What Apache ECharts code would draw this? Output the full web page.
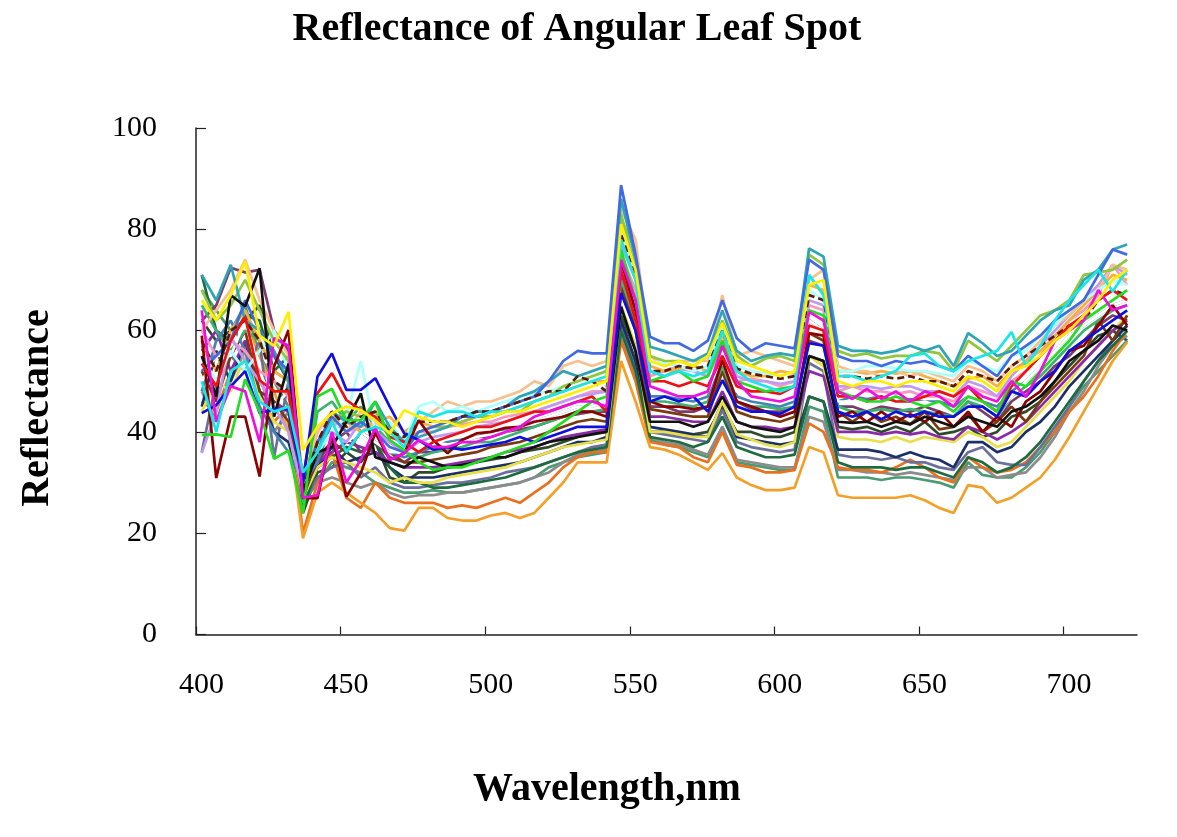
<!DOCTYPE html>
<html>
<head>
<meta charset="utf-8">
<script src="https://cdn.jsdelivr.net/npm/echarts@6/dist/echarts.min.js"></script>
<style>
  html, body { margin: 0; padding: 0; background: #fff; }
  #chart { width: 1177px; height: 837px; }
</style>
</head>
<body>
<div id="chart"></div>
<script>
"use strict";

// wavelength samples, nm
var wavelengths = [402,407,412,417,422,427,432,437,442,447,452,457,462,467,472,477,482,487,492,497,502,507,512,517,522,527,532,537,542,547,552,557,562,567,572,577,582,587,592,597,602,607,612,617,622,627,632,637,642,647,652,657,662,667,672,677,682,687,692,697,702,707,712,717,722];
var xTicks = [400, 450, 500, 550, 600, 650, 700];

// reflectance curves (%)
var darkOlive = [62,58,60,62,65,55,50, 24, 32,33,36,34,38,31,30, 32,32,33,33.5,34,34.5,35,36,36.5,37,38,39,40,40, 63,56,40, 40,39.5,39.5,40, 45, 40,40,39,39,40, 55,54, 41,40.5,41,40,41,40,42,39.5,40,41, 39,40,43,44,46,50,53,56,59,60,58];
var seaGreen = [68,64,60,65,55,50,45, 26, 30,34,33,32,30,29,28, 28,28.5,28,28,28.5,29,29.5,30,31,33,34,35,35.5,36, 62,54,38.5, 37.5,37,36,35, 41, 34,33.5,33,32.5,32.5, 45,44, 31,31,31,30.5,31,31,30.5,30,29,34, 31.5,31,31,33,36,40,45,49,52,55,58];
var gray = [48,42,50,56,52,40,44, 27, 30,31,30,29,30,28,27, 27.5,27.5,28,28,28.5,29,29.5,30,31,32,34,35.5,36,36.5, 59,51,39, 38,37.5,36.5,35.5, 41, 34.5,34,33.5,33,33, 43,42, 32.5,32.5,32,32,31.5,32,31.5,31,30.5,33, 33,31,31.5,32,35,39,44,48,53,57,59];
var darkOrange = [46,44,52,57,48,42,45, 20, 30,36,27,25,30,27,26, 26,26,25,25.5,25,26,27,26,28,30,33,35,36,36, 58,50,38, 37.5,37,35,34, 40, 33.5,33,32,32,32.5, 41.7,40, 33,32.5,32.5,32,33,34.5,33,31,30,35, 33,32,32.5,34,37,40,44,47,51,56,60];
var orange = [58,52,60,62,55,48,40, 19, 28,30,28,26,24,21,20.5, 25,25,23,22.5,22.5,23.5,24,23,24,27,30,34,34,34, 54,46,37, 36.5,35.5,34,32.5, 35.8, 31,29.5,28.5,28.5,29, 37,36, 27.5,27,27,27,27,27.5,26.5,25,24,29.5, 29,26,27,29,31,34.5,39,44,49,54,57.7];
var slate = [36,50,55,52,58,35,50, 26, 31,33,34,31,33,30,29, 29,29.5,30,30,30.5,31,32,32.5,33,34,35,36,37,37.5, 61,53,40, 39.5,39,38.5,38, 44.3, 38,37,36.5,36,36.5, 53.6,52, 35.5,35,35,34.5,35,34,34,33,32.5,36, 37,34,33.5,33.5,37,41,45,50,54,58,61];
var navy = [45,56,50,58,48,40,38, 28, 33,37,34,35,36,33,31, 31,31,31.5,32,32.5,33,33.5,34,35,36,37,38,38,39, 62,54,41, 40.5,40,39.5,39, 46, 39,38.5,38,37.5,38, 47,46, 36.5,36.5,36.5,36,35,36,35,34.5,33,38, 38,36,37,40,42,45,49,52,55,58,61];
var darkGreen = [71,60,58,63,62,52,55, 25, 33,35,37,36,38,33,30, 30,29,29,29.5,30,30.5,31,32,33,34,35,36,36.5,37, 60,52,39, 38.5,38,37,38, 43, 37,36,35,35,35.5, 47,46, 34,33,33,33,32.5,33,33,32,31,35, 34,32,33,35,38,42,46,50,54,57,60];
var paleYellow = [44,50,48,55,47,42,40, 27, 33,35,34,33,32,30,31, 30,30,31,31.5,32,32.5,33,34,35,36,37,37.5,38,38.5, 65,57,40, 40,39.5,39,39, 46, 39.5,38.5,37.5,37,38, 55,53, 39,38.5,38.5,38,39,38,39,38.5,38,40, 39,37,38,41,44,47,50,54,57,60,63];
var purple = [56,60,52,58,50,46,44, 28, 34,36,38,37,36,34,33, 33,33,33.5,34,34.5,35,36,36.5,37,38,39,39.5,40,40.5, 68,60,43, 43,42.5,42,42, 48, 42,41,41,40.5,41, 52,51, 40,40,40,39.5,40,39.5,40,39,38.5,41, 40,38.5,40,42,45,48,51,54,57,60,62];
var plum = [62,65,72.4,71.5,72,60,56, 30, 34,38,40,36,38,35,34, 36,36,37,38,39,39,40,40.5,41,42,43,43.5,44,44, 70.6,62,45, 45,44,44,45, 52, 46,44.5,44,44,45, 58,57, 45,45,44,45,44.5,44,45,44,43,46, 44,42,46,48,50,53,55,58,61,63,62];
var brown = [52,46,55,60,48,46,42, 27, 35,38,36,40,38,36,34, 34,34.5,35,35.5,36,37,37.5,38,39,40,41,42,42.5,42, 69,61,44.5, 44,43.5,43,43, 52, 44,43,42.5,42,43, 59.5,58, 44,42,44,42,43,41.5,44,40.5,41,43.5, 40,42,45,42,46,49,52,55,62,58,63];
var mediumGreen = [65,60,56,60,58,52,50, 26, 44,46,42,45,41,38,36, 35,36,36.5,37,38,38,39,40,41,42,43,44,44,44.5, 70,62,46, 46,45.5,45,46, 53, 46,45,45,44.5,45, 62,60, 45,44,44,44.5,44,44.5,44,43.5,43,46, 45,43,47,49,51,54,57,60,62,64,65];
var steelBlue = [48,58,62,56,45,40,36, 30, 34,42,44,40,38,36,35, 36,37,38,38.5,39,40,40.5,41,42,43,44,45,45,46, 72,64,47, 47,46.5,46,47, 55, 47,46,45.5,45,46, 62,60, 46,47,46.5,47,46,46.5,46,46,45,47, 46,45,48,50,53,56,59,61,63,65,66];
var white = [50,55,55,62,52,45,48, 30, 36,40,38,40,38,36,36, 38,38,37.5,38,39,39.5,40,41,42,43,44,45,45,46, 73,65,48, 48,47.5,47,48, 55, 48,47,46.5,46,47, 62,60, 46,46,46,45.5,46,45.5,46,45,44,47, 46,44,47,50,53,56,59,61,63,65,66];
var pink = [60,55,58,56,52,50,47, 30, 38,42,40,41,42,40,38, 40,40,41,41.5,42,42,43,43.5,44,45,46,47,48,48, 75,68,51, 52,53,52,51, 57, 50,50.5,50,49,50, 65,64, 48,49,48,48,47.5,48,47,47,46,49, 48,47,50,52,55,59,62,64,67,73,69];
var lavender = [35.8,44,58.8,54,50,45,40, 28, 36,40,38,42,40,38,36, 38,39,39.5,40,41,41.5,42,43,44,45,46,47,47.5,48, 77,70,52, 51,52.5,52,51, 58, 51,50,50,49.5,50, 66,65, 49,49,49,48.5,49,49,48,48,47,50, 49,47,51,54,57,60,63,66,69,73,71];
var amber = [57,52,60,64,58,52,50, 30, 40,44,42,40,42,43,40, 42,41,41,42,43,43,44,45,46,47,48,49,50,50, 82,76,53, 52,52.5,53,52, 59, 52,51,51,52,51.5, 69,68, 52,52,51.5,52,51.5,52,51,50,49,50.5, 51,49,52,54,56,59,62,65,68,71,70];
var peach = [60,64,68,74,66,60,55, 30, 40,44,40,44,42,40,38, 42,44,46,45,46,46,47,48,50,49,53,54,53,54, 84,78,55, 53,54,54,54, 67, 55,56,55,54,53, 70,72, 53,52,52,51,52,51,52,51,50,53, 52,50,53,55,58,61,63,66,68,73,72];
var lightCyan = [55,50,56,52,56,60,52, 30, 36,40,43,54,40,42,38, 45,46,44,45,44,45,46,47,47.5,48,49,50,51,52, 80,72,54, 53.5,53,52,53, 61, 53,52,51.5,51,52, 68,66, 52,52,53,53,52.5,52,52,51.5,51,54, 53,52,55,56,59,61,64,66,68,70,69];
var yellowGreen = [68,62,65,70,64,58,54, 28, 38,42,44,43,44,40,38, 40,41,41,42,43,43,44,44,46,47,49,50,51,52, 83,72,55, 54,54,53,55, 62, 55,53,54.5,55,54, 75,73, 56,55,55.5,54.5,55,55,56,55.5,52,58, 56,54,57,60,63,64,66,71,71.5,72,74];
var teal = [71,66,73,62,60,56,50, 28, 36,44,42,41,46,41,38, 39,40,41,43,44,44,45,47,48,50,52,51,52,53, 86,74,56.8, 56,55,54,55.5, 64, 56,54,55,55.5,55, 76.2,74.6, 57,56,56,55.5,56,57,56,57,53,59.5, 57.5,55,56,59,62,64,65,70,72,76,77];
var royalBlue = [52,55,58,66,60,55,52, 30, 38,43,40,42,40,37,36, 40,41,42,43,43,44,45,46,47,50,54,56,55.5,55.5, 88.7,75,58.8, 57.5,57.5,56,58, 66, 58.5,56,57.5,57,56.5, 74,72, 55,54,54,53,54,53.5,54,53,52,55, 53,51,55,57,59,62,64,66,71,76,75];
var dashedBrown = [58,52,60,62,58,50,48, 29, 38,44,41,43,44,40,39, 42,42,42,43,44,44,45,46,47,48,48,51,50,48, 79,71,52, 52,53,52.5,53, 60, 52.5,51.5,51,50.5,51, 67,66, 51,51,50.5,51,50.5,51,50,50,49,52, 51,50,53,55,57,59,61,62,66,68,67];
var darkRed = [59,30.9,43,43,31.2,52.9,60.1, 26.9, 26.9,39.7,27.2,31.9,39.8,34.5,35.8, 42.3,38.4,35.8,38.4,39.7,40,40.8,41,42,42.5,43,44,44,43, 73.6,64,46, 45,45,44.5,45, 54.2, 46,45,44,43,44, 59.5,59, 43,44,42,44,42,43.5,42,44,41,44, 40,43,41,46,48,52,56,57,61,65,61];
var black = [55,47,67,64.8,72.3,43,53.5, 28, 36,37,42,47.6,35,34,33, 35,34,33,33.5,34,35,35,36,37,38,38.5,39,39.5,40, 64.7,56,42, 42,42,41,42, 47, 42,41,40.5,40,41, 55,54, 42,41.8,42,41,42,41.5,43,42,41,43, 42,41,44,45,47,50,54,56,58,61,60];
var red = [53.5,49,58,62.7,50.2,48,48, 31, 47.6,51.6,46.3,44.3,43,39,38, 36,38,39,40,41,41,42,43,44,44,45,46,47,44, 72,62,50, 50,49,50,49, 55, 49,48,48,47.5,49, 61,60, 47,47,46,47,46,46,47,48,47,49, 46,44,49,52,55,58,61,63,66,68,66];
var blue = [43.7,45.3,49,52,43.7,44.5,44.5, 30, 50.9,55.5,48.3,48.3,50.6,45,39.7, 38.4,36.5,37,36.5,37,37.5,38,39,38,39,40,41,41,41, 67.4,60,46, 47,46,47,44, 50.2, 45,44,44,43.5,45, 57.5,57, 44,43,44,42.5,44,43,44,43,43,45, 45,43,48,47,50,52,56,58,60,62,64];
var lime = [39.4,39.5,39,50.4,44,34.7,36.3, 23.9, 47,48.5,42.3,42.3,46,38.4,36.4, 34,32.5,33,33,34,35,36,37,38,40,42,44,46,47, 76,66,50, 51,52,50,51, 58, 50,49,48,48.5,49, 64,63, 48,47,46,46,47,46,45,46,44,47, 46,44,50,49,52,55,58,62,64,66,68];
var magenta = [64,42,49,48,38,58.5,57, 27, 27.5,40,30,34.5,40.8,34.5,35.8, 38.4,37,37,38,38,39,40,41,43,44,45,46,46,45, 74,66,49, 48,47,47,48, 57, 50,47,46.5,46,47, 63.7,62, 48,46.5,48.5,46.5,48,46,48,47,45,49, 47,46,50,47,52,58,60,62,68,64,65];
var cyan = [50,40,52,54,46,44,45, 32, 36,42,36,40,41,40,37, 44,43,44,44,43,44,44,45,46,47,48,49,50,51, 78,70,52, 51,52,51,52, 60, 52,50,49,48,49, 71,67, 51,51,50,51,52,55,55.5,53,52,54, 55,56,59.7,53,57,62,66,69,72,67.7,72];
var yellow = [66,62,67,73.6,59,57,63.7, 36.4, 41,43.7,45,44.3,42.3,39.7,44.3, 43,42,42,41,42,43,44,44,45,46,47,48,49,50, 81,72,54, 53,54,53,55, 61.5, 54,53,52,51,52, 69,70, 50,49,50,50,49,50,50,49,48,51, 50,48,52,53,55,58,60,63,66,70,72];

// drawing order (first = bottom) and line colours
var curves = [
	{ data: darkOlive, color: '#2f4a2a' },
	{ data: seaGreen, color: '#4a9a72' },
	{ data: gray, color: '#8c8c8c' },
	{ data: darkOrange, color: '#e8701e' },
	{ data: orange, color: '#f3a02a' },
	{ data: slate, color: '#6b6f9c' },
	{ data: navy, color: '#1c2f66' },
	{ data: darkGreen, color: '#1e6b40' },
	{ data: paleYellow, color: '#e8e04a' },
	{ data: purple, color: '#8a2aa8' },
	{ data: plum, color: '#7b3b6b' },
	{ data: brown, color: '#7a3a10' },
	{ data: mediumGreen, color: '#3cb371' },
	{ data: steelBlue, color: '#4682b4' },
	{ data: white, color: '#ffffff' },
	{ data: pink, color: '#f49ac2' },
	{ data: lavender, color: '#c09af0' },
	{ data: amber, color: '#f5b040' },
	{ data: peach, color: '#f7c08e' },
	{ data: lightCyan, color: '#b0ffff' },
	{ data: yellowGreen, color: '#8ec63f' },
	{ data: teal, color: '#2fa4b4' },
	{ data: royalBlue, color: '#4169e1' },
	{ data: dashedBrown, color: '#5a1a0a', dashed: true },
	{ data: darkRed, color: '#8b0000' },
	{ data: black, color: '#111111' },
	{ data: red, color: '#ee1111' },
	{ data: blue, color: '#1010dd' },
	{ data: lime, color: '#22dd22' },
	{ data: magenta, color: '#ee11dd' },
	{ data: cyan, color: '#19e6e6' },
	{ data: yellow, color: '#ffee00' }
];

var serif = '"Liberation Serif", "Times New Roman", serif';
var myChart = echarts.init(document.getElementById('chart'));

var series = curves.map(function(c, k) {
	return {
		name: 'c' + k,
		type: 'line',
		showSymbol: false,
		symbol: 'none',
		silent: true,
		data: wavelengths.map(function(w, i) { return [w, c.data[i]]; }),
		lineStyle: {
			color: c.color,
			width: 2.7,
			type: c.dashed ? [7, 4] : 'solid'
		}
	};
});

var option = {
	animation: false,
	backgroundColor: '#ffffff',
	grid: {
		left: 196,
		right: 40,
		top: 128,
		bottom: 202.5,
		containLabel: false
	},
	xAxis: {
		type: 'value',
		min: 400,
		max: 725.4,
		interval: 50,
		splitLine: { show: false },
		axisLine: { lineStyle: { color: '#222', width: 1.5 } },
		axisTick: { inside: true, length: 8, customValues: xTicks, lineStyle: { color: '#222', width: 1.2 } },
		axisLabel: {
			customValues: xTicks,
			margin: 36,
			padding: [0, 0, 0, 11],
			fontFamily: serif,
			fontSize: 30,
			color: '#000'
		}
	},
	yAxis: {
		type: 'value',
		min: 0,
		max: 100,
		interval: 20,
		splitLine: { show: false },
		axisLine: { show: true, lineStyle: { color: '#222', width: 1.5 } },
		axisTick: { show: true, inside: true, length: 10, lineStyle: { color: '#222', width: 1.2 } },
		axisLabel: {
			margin: 39,
			fontFamily: serif,
			fontSize: 30,
			color: '#000'
		}
	},
	graphic: [{
		type: 'text',
		x: 577,
		y: 30,
		style: {
			text: 'Reflectance of Angular Leaf Spot',
			font: 'bold 40px ' + serif,
			fill: '#000',
			textAlign: 'center',
			textVerticalAlign: 'middle'
		}
	}, {
		type: 'text',
		x: 607,
		y: 790,
		style: {
			text: 'Wavelength,nm',
			font: 'bold 40px ' + serif,
			fill: '#000',
			textAlign: 'center',
			textVerticalAlign: 'middle'
		}
	}, {
		type: 'text',
		x: 38,
		y: 408,
		rotation: Math.PI / 2,
		style: {
			text: 'Reflectance',
			font: 'bold 40px ' + serif,
			fill: '#000',
			textAlign: 'center',
			textVerticalAlign: 'middle'
		}
	}],
	series: series
};

myChart.setOption(option);
</script>
</body>
</html>
